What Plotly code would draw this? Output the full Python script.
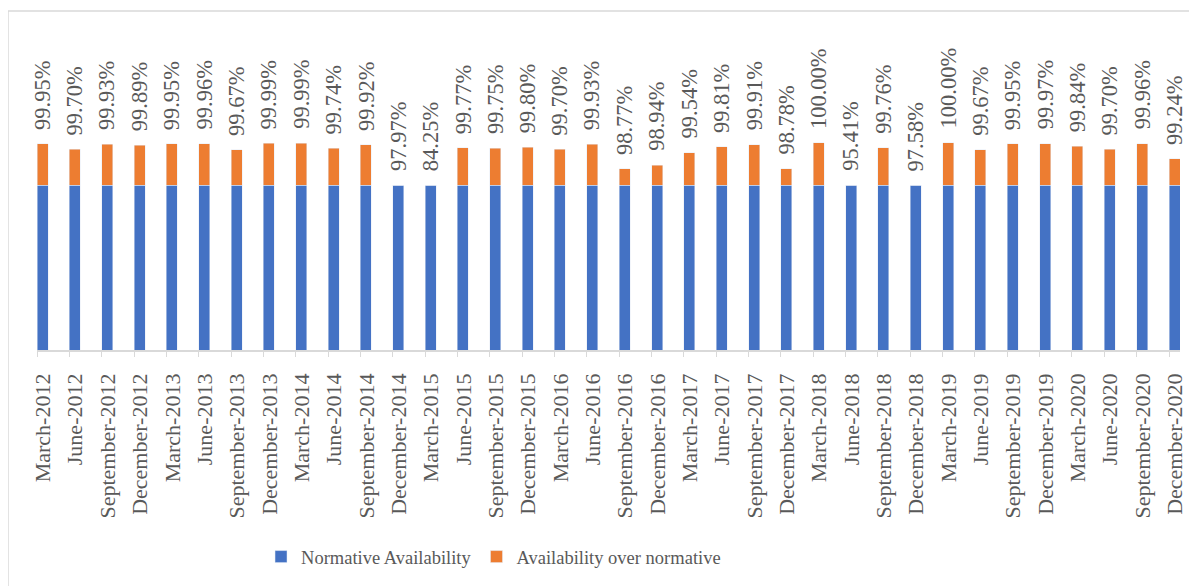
import plotly.graph_objects as go

# quarterly availability of the grid, %
quarters = [
    "March-2012", "June-2012", "September-2012", "December-2012",
    "March-2013", "June-2013", "September-2013", "December-2013",
    "March-2014", "June-2014", "September-2014", "December-2014",
    "March-2015", "June-2015", "September-2015", "December-2015",
    "March-2016", "June-2016", "September-2016", "December-2016",
    "March-2017", "June-2017", "September-2017", "December-2017",
    "March-2018", "June-2018", "September-2018", "December-2018",
    "March-2019", "June-2019", "September-2019", "December-2019",
    "March-2020", "June-2020", "September-2020", "December-2020",
]
availability = [
    99.95, 99.70, 99.93, 99.89,
    99.95, 99.96, 99.67, 99.99,
    99.99, 99.74, 99.92, 97.97,
    84.25, 99.77, 99.75, 99.80,
    99.70, 99.93, 98.77, 98.94,
    99.54, 99.81, 99.91, 98.78,
    100.00, 95.41, 99.76, 97.58,
    100.00, 99.67, 99.95, 99.97,
    99.84, 99.70, 99.96, 99.24,
]
normative = 98.0

x = list(range(len(quarters)))
normative_part = [normative] * len(quarters)
over_part = [max(v - normative, 0) for v in availability]

BLUE = "#4472C4"
ORANGE = "#ED7D31"
TEXT = "#595959"
LINE = "#D9D9D9"
FONT = "Liberation Serif"
W = 0.34

fig = go.Figure()
fig.add_trace(go.Bar(x=x, y=normative_part, name="Normative Availability",
                     marker_color=BLUE, width=W, hoverinfo="skip"))
fig.add_trace(go.Bar(x=x, y=over_part, name="Availability over normative",
                     marker_color=ORANGE, width=W, hoverinfo="skip"))

# value labels above each bar
for xi, v in zip(x, availability):
    fig.add_annotation(x=xi, y=max(v, normative), text=f"{v:.2f}%",
                       textangle=-90, showarrow=False, yanchor="bottom",
                       yshift=12, font=dict(family=FONT, size=22.5, color=TEXT))

# chart frame
fig.add_shape(type="rect", xref="paper", yref="paper",
              x0=-0.0254, x1=1.03, y0=-0.9, y1=1.059,
              line=dict(color=LINE, width=1.5), fillcolor="rgba(0,0,0,0)")

fig.update_layout(
    width=1189, height=578,
    barmode="stack",
    plot_bgcolor="white", paper_bgcolor="white",
    margin=dict(l=29, r=17, t=22, b=236, autoexpand=False),
    font=dict(family=FONT, color=TEXT),
    showlegend=True,
    legend=dict(orientation="h", x=0.196, y=-0.647, xanchor="left", yanchor="middle",
                font=dict(family=FONT, size=18.5, color=TEXT), traceorder="normal"),
    xaxis=dict(
        range=[-W / 2, len(quarters) - 1 + W / 2],
        tickmode="array", tickvals=[xi - W / 2 for xi in x], ticktext=quarters,
        tickangle=-90, ticks="outside", ticklen=5, tickcolor=LINE,
        ticklabelshift=6, ticklabelstandoff=8, automargin=False,
        showline=True, linecolor=LINE, linewidth=1.5,
        showgrid=False, zeroline=False,
        tickfont=dict(family=FONT, size=22, color=TEXT),
    ),
    yaxis=dict(range=[90.2, 105.34], visible=False, showgrid=False,
               zeroline=False, automargin=False),
)

fig.write_html("out.html")
